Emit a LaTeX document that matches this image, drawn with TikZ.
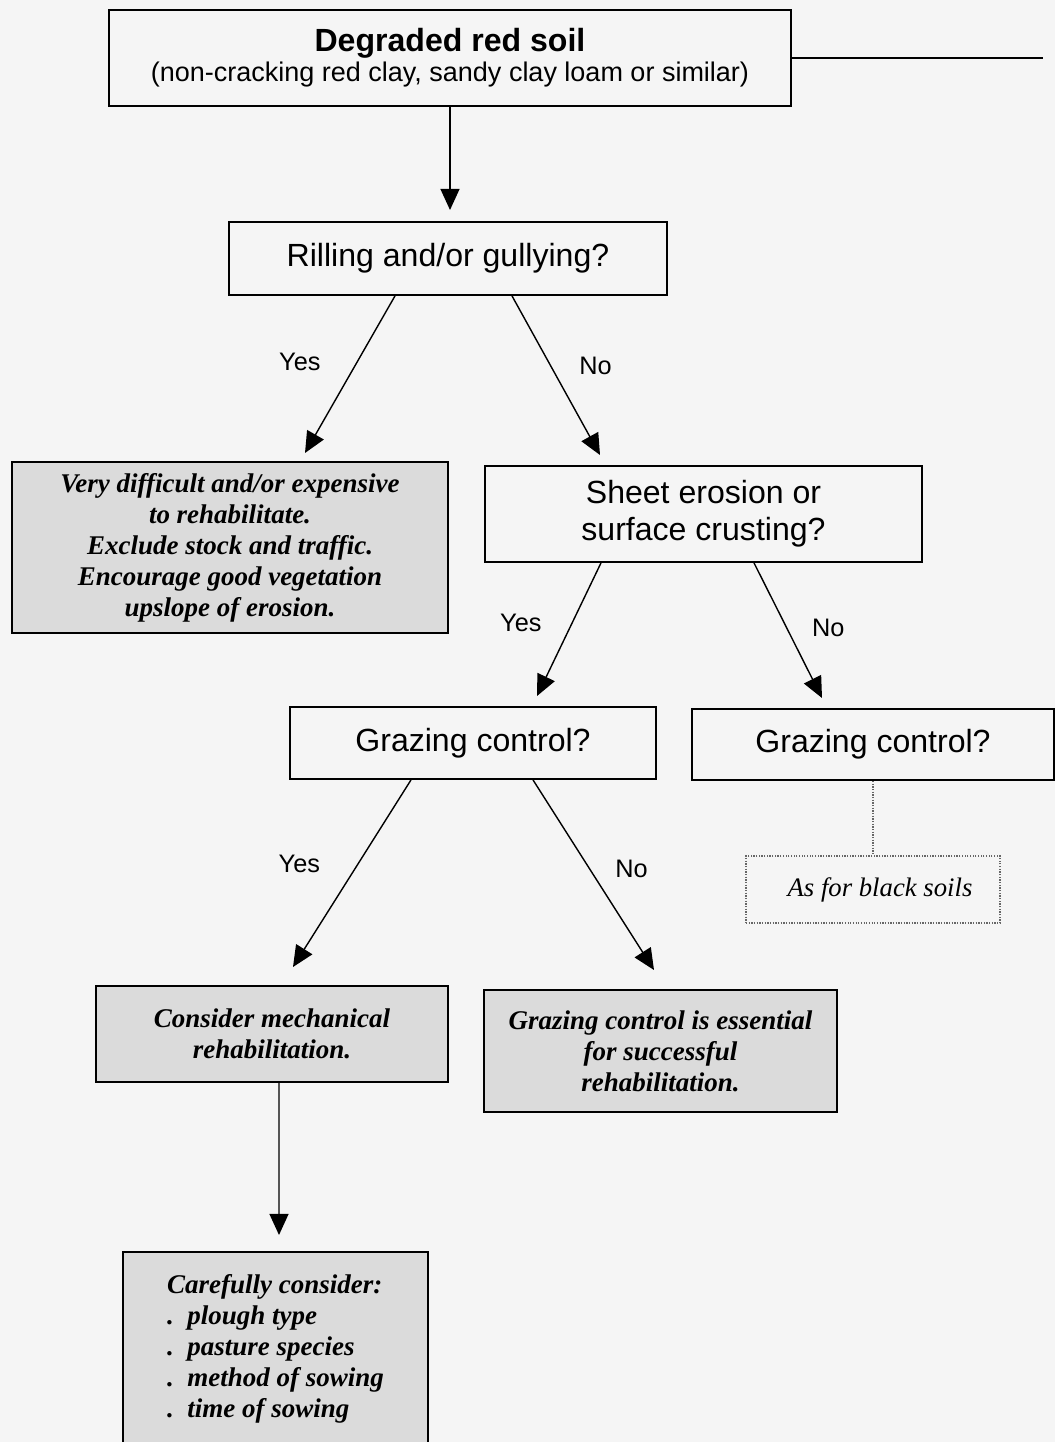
\documentclass[tikz,border=0pt]{standalone}
\usepackage{fontspec}
\setmainfont{Liberation Serif}
\setsansfont{Liberation Sans}
\usetikzlibrary{arrows.meta}

\begin{document}
\begin{tikzpicture}[x=0.025cm,y=-0.025cm,
		>={Triangle[length=15pt,width=13.5pt]},
		qbox/.style={draw,line width=1.3pt,align=center,inner sep=0pt,
			font=\sffamily\fontsize{22.8}{26.3}\selectfont},
		notebox/.style={draw,line width=1.3pt,fill=black!14,align=center,inner sep=0pt,
			font=\rmfamily\bfseries\itshape\fontsize{19.2}{22}\selectfont},
		dotbox/.style={draw=black!60,densely dotted,line width=0.9pt,inner sep=0pt,
			font=\rmfamily\itshape\fontsize{19}{22}\selectfont},
		lbl/.style={inner sep=0pt,font=\sffamily\fontsize{18}{20}\selectfont},
		link/.style={->,line width=1pt}
		]
		\useasboundingbox[fill=black!4] (0,0) rectangle (1055,1442);

		% boxes
		\node[qbox,minimum width=17.05cm,minimum height=2.4cm] (soil) at (450,58)
			{\textbf{Degraded red soil}\\[-5pt]{\fontsize{19.2}{22}\selectfont (non-cracking red clay, sandy clay loam or similar)}};
		\node[qbox,minimum width=10.95cm,minimum height=1.825cm] (rill) at (448,258.5) {Rilling and/or gullying?};
		\node[notebox,minimum width=10.9cm,minimum height=4.275cm] (hard) at (230,547.5)
			{Very difficult and/or expensive\\to rehabilitate.\\Exclude stock and traffic.\\Encourage good vegetation\\upslope of erosion.};
		\node[qbox,minimum width=10.925cm,minimum height=2.4cm] (sheet) at (703.5,514) {Sheet erosion or\\surface crusting?};
		\node[qbox,minimum width=9.15cm,minimum height=1.8cm] (graze) at (473,743) {Grazing control?};
		\node[qbox,minimum width=9.05cm,minimum height=1.775cm] (grazeb) at (873,744.5) {Grazing control?};
		\node[dotbox,minimum width=6.35cm,minimum height=1.675cm] (black) at (873,889.5) {\hspace{0.35cm}As for black soils};
		\node[notebox,minimum width=8.8cm,minimum height=2.4cm] (mech) at (272,1034) {Consider mechanical\\rehabilitation.};
		\node[notebox,minimum width=8.825cm,minimum height=3.05cm] (must) at (660.5,1051)
			{Grazing control is essential\\for successful\\rehabilitation.};
		\node[notebox,align=left,minimum width=7.625cm,minimum height=4.85cm] (care) at (275.5,1349)
			{Carefully consider:\\.\enspace plough type\\.\enspace pasture species\\.\enspace method of sowing\\.\enspace time of sowing};

		% free ends
		\coordinate (edge) at (1043,58);
		\coordinate (t0) at (450,210);
		\coordinate (t1) at (305,453);
		\coordinate (t2) at (600,455);
		\coordinate (t3) at (537,696);
		\coordinate (t4) at (822,698);
		\coordinate (t5) at (293,967);
		\coordinate (t6) at (654,970);
		\coordinate (t7) at (279,1235);

		% connectors
		\draw[line width=1.3pt] (soil.east) -- (edge);
		\draw[link] (soil.south) -- (t0);
		\draw[link] ([xshift=-1.325cm]rill.south) -- (t1) node[lbl,pos=0.42,left=0.9cm] {Yes};
		\draw[link] ([xshift=1.6cm]rill.south) -- (t2) node[lbl,pos=0.44,right=0.7cm] {No};
		\draw[link] ([xshift=-2.5625cm]sheet.south) -- (t3) node[lbl,pos=0.45,left=0.75cm] {Yes};
		\draw[link] ([xshift=1.2625cm]sheet.south) -- (t4) node[lbl,pos=0.48,right=0.62cm] {No};
		\draw[link] ([xshift=-1.55cm]graze.south) -- (t5) node[lbl,pos=0.45,left=0.93cm] {Yes};
		\draw[link] ([xshift=1.5cm]graze.south) -- (t6) node[lbl,pos=0.47,right=0.62cm] {No};
		\draw[link] ([xshift=0.175cm]mech.south) -- (t7);
		\draw[black!60,densely dotted,line width=0.9pt] (grazeb.south) -- (black.north);
\end{tikzpicture}
\end{document}
